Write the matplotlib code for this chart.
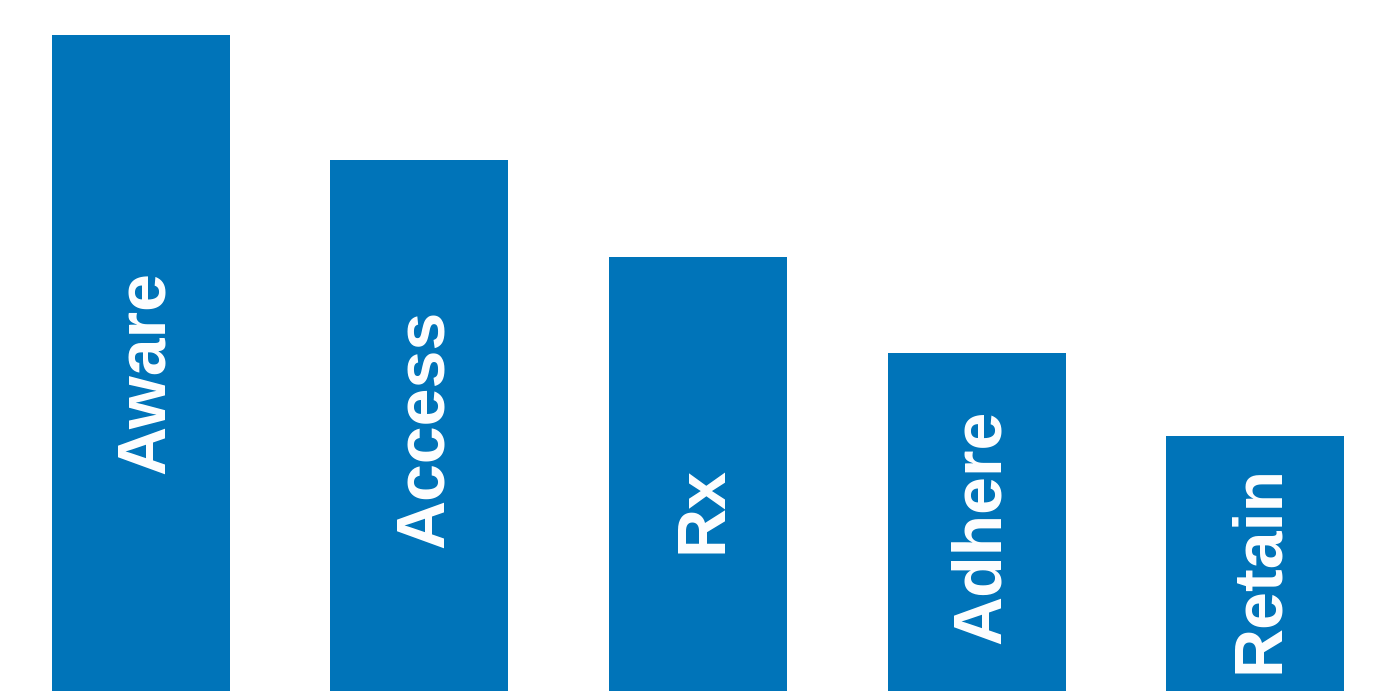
import matplotlib
matplotlib.use('Agg')
import matplotlib.pyplot as plt
import matplotlib.transforms as mtransforms

# Funnel stages and their share (%)
stages = ['Aware', 'Access', 'Rx', 'Adhere', 'Retain']
values = [100, 81.3, 66.8, 52.4, 39.9]
label_y = [49.5, 41, 29, 26.3, 20]

bar_color = '#0074B9'

fig = plt.figure(figsize=(13.74, 6.91), dpi=100)
ax = fig.add_axes([0, -12 / 691, 1, 703 / 691])

x = range(len(stages))
ax.bar(x, values, width=0.639, color=bar_color)

# nudge labels a bit right so the glyphs sit centred in the bars
shift = mtransforms.ScaledTranslation(5 / 100, 0, fig.dpi_scale_trans)
for i, (name, y) in enumerate(zip(stages, label_y)):
    ax.text(i, y, name, rotation=90, ha='center', va='center',
            color='white', fontsize=49, fontweight='bold',
            family='Liberation Sans', transform=ax.transData + shift)

ax.set_xlim(-0.506, 4.427)
ax.set_ylim(0, 105.2)
ax.axis('off')

fig.savefig('out.png', dpi=100)
